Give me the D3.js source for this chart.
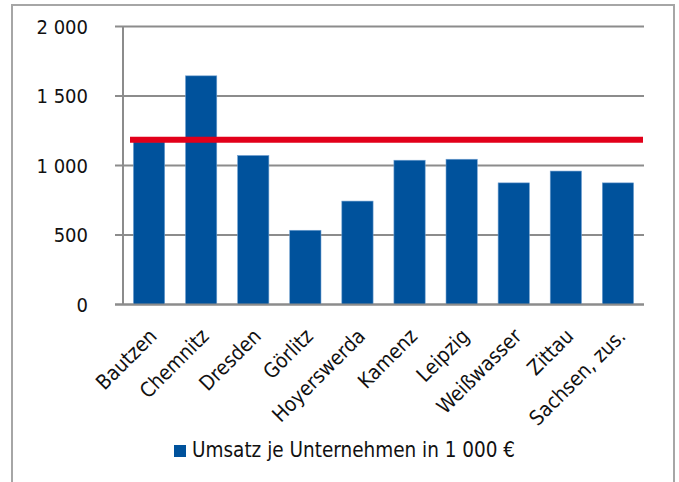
<!DOCTYPE html>
<html>
<head>
<meta charset="utf-8">
<script src="https://cdn.jsdelivr.net/npm/d3@7"></script>
<style>
body { margin: 0; background: #fff; }
text { font-family: "DejaVu Sans Condensed", "DejaVu Sans", sans-serif; fill: #111; }
</style>
</head>
<body>
<div id="chart"></div>
<script>
// data
var orte = ["Bautzen", "Chemnitz", "Dresden", "Görlitz", "Hoyerswerda", "Kamenz", "Leipzig", "Weißwasser", "Zittau", "Sachsen, zus."];
var umsatz = [1170, 1645, 1072, 534, 744, 1038, 1045, 875, 960, 875];
var referenz = 1186;
var yTicks = [0, 500, 1000, 1500, 2000];
var legendText = "Umsatz je Unternehmen in 1 000 €";

var WIDTH = 679, HEIGHT = 482;
var LEFT = 123, RIGHT = 644, TOP = 26.5, BOTTOM = 304.5;

var svg = d3.select("#chart").append("svg")
    .attr("width", WIDTH)
    .attr("height", HEIGHT);

// outer frame
svg.append("rect")
    .attr("x", 12).attr("y", 5)
    .attr("width", 662).attr("height", 490)
    .attr("fill", "none")
    .attr("stroke", "#a6a6a6")
    .attr("stroke-width", 2);

var x = d3.scaleBand()
    .domain(orte)
    .range([LEFT, RIGHT])
    .paddingInner(0.4)
    .paddingOuter(0.2);

var y = d3.scaleLinear()
    .domain([0, 2000])
    .range([BOTTOM, TOP]);

function fmt(v) {
    return d3.format(",")(v).replace(",", " ");
}

// gridlines
svg.append("g").selectAll("line")
    .data(yTicks)
    .enter().append("line")
    .attr("x1", LEFT - 8).attr("x2", RIGHT)
    .attr("y1", d => y(d)).attr("y2", d => y(d))
    .attr("stroke", "#8c8c8c")
    .attr("stroke-width", 2);

// y labels
svg.append("g").selectAll("text")
    .data(yTicks)
    .enter().append("text")
    .attr("x", 88)
    .attr("y", d => y(d))
    .attr("dy", "0.36em")
    .attr("text-anchor", "end")
    .style("font-size", "20px")
    .text(fmt);

// bars
svg.append("g").selectAll("rect")
    .data(orte)
    .enter().append("rect")
    .attr("x", d => x(d))
    .attr("y", (d, i) => y(umsatz[i]))
    .attr("width", x.bandwidth())
    .attr("height", (d, i) => y(0) - y(umsatz[i]))
    .attr("fill", "#00529c")
    .attr("stroke", "#6f9fd0")
    .attr("stroke-width", 0.6);

// axis lines
svg.append("line")
    .attr("x1", LEFT).attr("x2", LEFT)
    .attr("y1", TOP).attr("y2", BOTTOM)
    .attr("stroke", "#8c8c8c")
    .attr("stroke-width", 2);

svg.append("line")
    .attr("x1", LEFT - 8).attr("x2", RIGHT)
    .attr("y1", BOTTOM).attr("y2", BOTTOM)
    .attr("stroke", "#8c8c8c")
    .attr("stroke-width", 2);

// reference line
svg.append("line")
    .attr("x1", 130).attr("x2", 643)
    .attr("y1", y(referenz)).attr("y2", y(referenz))
    .attr("stroke", "#e2001a")
    .attr("stroke-width", 6);

// category labels
svg.append("g").selectAll("text")
    .data(orte)
    .enter().append("text")
    .attr("transform", d => "translate(" + (x(d) + x.bandwidth() / 2 + 9) + "," + (BOTTOM + 33) + ") rotate(-45)")
    .attr("text-anchor", "end")
    .style("font-size", "20.5px")
    .text(d => d);

// legend
svg.append("rect")
    .attr("x", 174).attr("y", 445)
    .attr("width", 12).attr("height", 12)
    .attr("fill", "#00529c");

svg.append("text")
    .attr("x", 192).attr("y", 457)
    .style("font-size", "20.5px")
    .text(legendText);
</script>
</body>
</html>
